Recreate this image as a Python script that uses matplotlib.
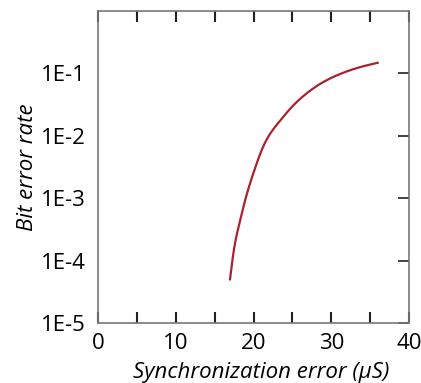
import matplotlib
matplotlib.use("Agg")
import matplotlib.pyplot as plt
import numpy as np

plt.rcParams['font.family'] = ['Open Sans', 'DejaVu Sans']

sync_error = [16.98, 17.45, 18.10, 18.91, 19.98, 21.26, 23.41, 24.69, 25.98, 28.55, 31.13, 33.70, 35.97]
log_ber = [-4.30, -3.85, -3.45, -3.04, -2.60, -2.17, -1.76, -1.57, -1.41, -1.17, -1.01, -0.90, -0.83]
ber = [10 ** v for v in log_ber]

x_ticks = [0, 10, 20, 30, 40]
y_ticks = [1e-5, 1e-4, 1e-3, 1e-2, 1e-1]
y_tick_labels = ['1E-5', '1E-4', '1E-3', '1E-2', '1E-1']

fig = plt.figure(figsize=(4.21, 3.83), dpi=100)
ax = fig.add_axes([98/421, 1-323/383, 311/421, 312/383])


def natural_spline(x, y, xn):
    x = np.asarray(x, float); y = np.asarray(y, float)
    n = len(x)
    h = np.diff(x)
    A = np.zeros((n, n)); b = np.zeros(n)
    A[0, 0] = 1; A[-1, -1] = 1
    for i in range(1, n - 1):
        A[i, i-1] = h[i-1]; A[i, i] = 2*(h[i-1] + h[i]); A[i, i+1] = h[i]
        b[i] = 6*((y[i+1]-y[i])/h[i] - (y[i]-y[i-1])/h[i-1])
    M = np.linalg.solve(A, b)
    idx = np.clip(np.searchsorted(x, xn) - 1, 0, n - 2)
    xi, xi1 = x[idx], x[idx+1]; hi = h[idx]
    return (M[idx]*(xi1-xn)**3/(6*hi) + M[idx+1]*(xn-xi)**3/(6*hi)
            + (y[idx]/hi - M[idx]*hi/6)*(xi1-xn) + (y[idx+1]/hi - M[idx+1]*hi/6)*(xn-xi))


xf = np.linspace(sync_error[0], sync_error[-1], 400)
yf = natural_spline(sync_error, np.log10(ber), xf)
ax.plot(xf, 10**yf, color='#a8232b', lw=1.6)

ax.set_yscale('log')
ax.set_xlim(0, 40)
ax.set_ylim(1e-5, 1e0)
ax.set_xticks(x_ticks)
ax.set_xticks([5, 15, 25, 35], minor=True)
ax.set_yticks(y_ticks)
ax.set_yticklabels(y_tick_labels)
ax.yaxis.set_minor_locator(matplotlib.ticker.NullLocator())

ax.tick_params(axis='x', which='both', direction='in', top=True, bottom=True,
               length=8, width=1.5, color='#222222', labelsize=16, pad=7)
ax.tick_params(axis='y', which='both', direction='in', left=False, right=True,
               length=8, width=1.2, color='#222222', labelsize=16, labelleft=True, pad=9)
for s in ax.spines.values():
    s.set_color('#777777')
    s.set_linewidth(1.2)

ax.set_xlabel('Synchronization error (\u00b5S)', fontsize=16, style='italic')
ax.xaxis.set_label_coords(0.524, -0.125)
ax.set_ylabel('Bit error rate', fontsize=16, style='italic', labelpad=2)

fig.savefig('out.png', dpi=100)
